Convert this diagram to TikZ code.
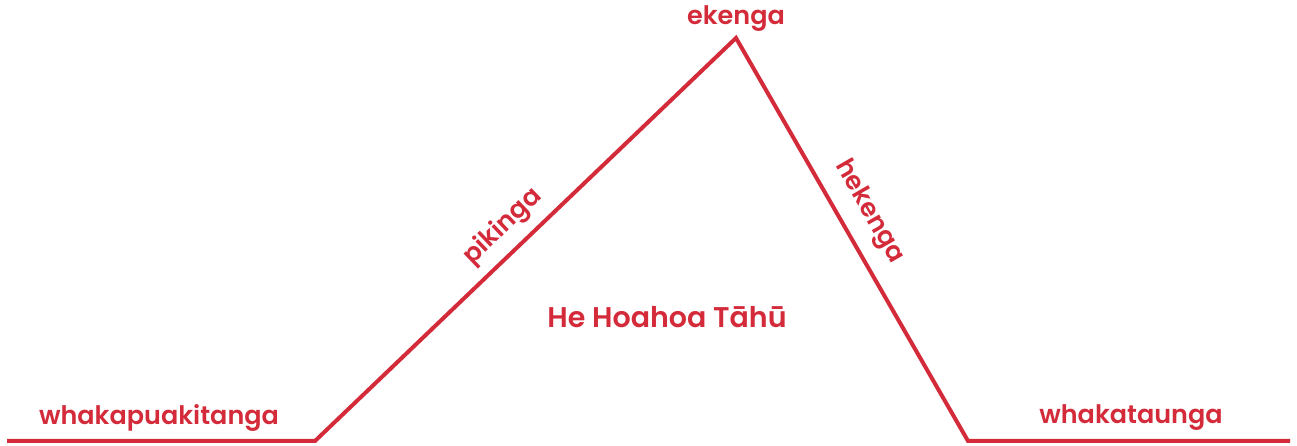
\documentclass[tikz,border=0pt]{standalone}
\usepackage{fontspec}
\setmainfont{Poppins}[UprightFont=* SemiBold]
\definecolor{tred}{HTML}{D42B3A}
\begin{document}
\begin{tikzpicture}[x=1pt,y=1pt,
  lbl/.style={text=tred,font=\fontsize{25.5}{28}\selectfont,inner sep=0pt},
  big/.style={text=tred,font=\fontsize{28.5}{31}\selectfont,inner sep=0pt},
  ridge/.style={draw=tred,line width=4pt,line join=miter}]
\useasboundingbox (0,0) rectangle (1297,446);
\coordinate (l) at (7,5);
\coordinate (a) at (315,5);
\coordinate (p) at (736,408);
\coordinate (b) at (968,5);
\coordinate (r) at (1290,5);
\draw[ridge] (l) -- (a) -- (p) -- (b) -- (r);
\node[lbl] (ek) at (736,427) {ekenga};
\node[lbl] (wp) at (159,28) {whakapuakitanga};
\node[lbl] (wt) at (1131,28) {whakataunga};
\node[lbl,rotate=43.75] (pk) at (503,219) {pikinga};
\node[lbl,rotate=-60.07] (hk) at (869,234) {hekenga};
\node[big] (hh) at (667,129) {He Hoahoa Tāhū};
\end{tikzpicture}
\end{document}
